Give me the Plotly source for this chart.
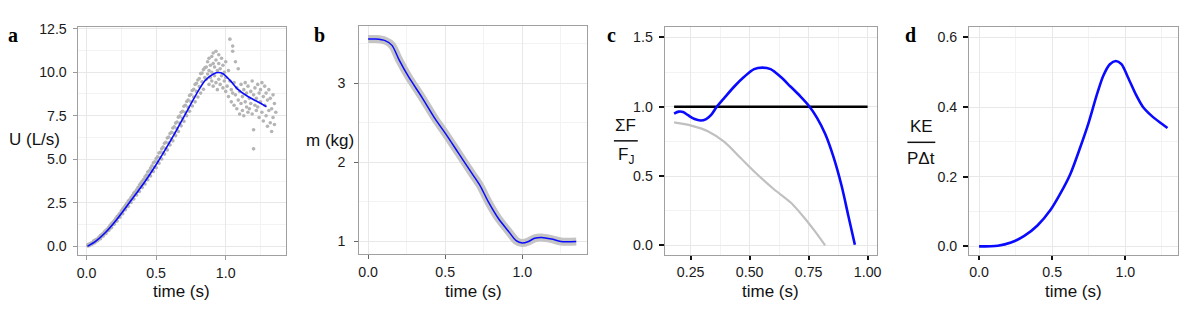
import plotly.graph_objects as go

# ---------------- Panel a data ----------------
a_curve_t = [0.007, 0.067, 0.138, 0.21, 0.281, 0.352, 0.424, 0.495, 0.567, 0.638, 0.71, 0.781,
             0.852, 0.912, 0.948, 0.983, 1.031, 1.09, 1.162, 1.233, 1.293]
a_curve_u = [0.0, 0.3, 0.81, 1.47, 2.22, 2.98, 3.77, 4.63, 5.57, 6.55, 7.59, 8.63,
             9.53, 9.9, 9.98, 9.9, 9.53, 9.0, 8.59, 8.29, 8.02]

t_even = [0.02, 0.04, 0.06, 0.08, 0.10, 0.12, 0.14, 0.16, 0.18, 0.20, 0.22, 0.24, 0.26, 0.28,
          0.30, 0.32, 0.34, 0.36, 0.38, 0.40, 0.42, 0.44, 0.46, 0.48, 0.50, 0.52, 0.54, 0.56,
          0.58, 0.60, 0.62, 0.64, 0.66, 0.68, 0.70, 0.72, 0.74, 0.76, 0.78, 0.80, 0.82, 0.84]
trial_a_u = [0.14, 0.21, 0.35, 0.44, 0.62, 0.75, 0.93, 1.09, 1.31, 1.48, 1.72, 1.90, 2.15, 2.36,
             2.60, 2.80, 3.06, 3.25, 3.52, 3.74, 3.99, 4.27, 4.50, 4.80, 5.05, 5.36, 5.60, 5.92,
             6.22, 6.48, 6.80, 7.08, 7.42, 7.70, 8.05, 8.32, 8.66, 8.95, 9.30, 9.55, 9.92, 10.15]
trial_b_u = [0.04, 0.12, 0.21, 0.33, 0.44, 0.60, 0.74, 0.92, 1.08, 1.28, 1.46, 1.68, 1.88, 2.10,
             2.30, 2.52, 2.72, 2.95, 3.15, 3.38, 3.58, 3.83, 4.04, 4.30, 4.52, 4.78, 5.02, 5.30,
             5.54, 5.82, 6.06, 6.36, 6.60, 6.92, 7.18, 7.50, 7.76, 8.06, 8.30, 8.58, 8.80, 9.02]
t_odd = [0.01, 0.03, 0.05, 0.07, 0.09, 0.11, 0.13, 0.15, 0.17, 0.19, 0.21, 0.23, 0.25, 0.27,
         0.29, 0.31, 0.33, 0.35, 0.37, 0.39, 0.41, 0.43, 0.45, 0.47, 0.49, 0.51, 0.53, 0.55,
         0.57, 0.59, 0.61, 0.63, 0.65, 0.67, 0.69, 0.71, 0.73, 0.75, 0.77, 0.79, 0.81, 0.83, 0.85]
trial_c_u = [0.10, 0.18, 0.30, 0.39, 0.54, 0.68, 0.85, 1.00, 1.21, 1.38, 1.60, 1.80, 2.04, 2.24,
             2.48, 2.68, 2.92, 3.14, 3.38, 3.62, 3.84, 4.10, 4.34, 4.62, 4.86, 5.15, 5.40, 5.70,
             5.98, 6.28, 6.55, 6.86, 7.14, 7.48, 7.76, 8.10, 8.40, 8.72, 9.02, 9.36, 9.64, 9.95, 10.25]
trial_d_u = [0.03, 0.10, 0.20, 0.31, 0.42, 0.57, 0.71, 0.89, 1.05, 1.26, 1.44, 1.66, 1.86, 2.09,
             2.28, 2.52, 2.72, 2.97, 3.16, 3.42, 3.60, 3.88, 4.08, 4.36, 4.56, 4.86, 5.08, 5.38,
             5.62, 5.94, 6.18, 6.50, 6.76, 7.08, 7.36, 7.70, 7.98, 8.30, 8.58, 8.90, 9.18, 9.45, 9.70]
late_t = [0.86, 0.86, 0.87, 0.87, 0.88, 0.88, 0.88, 0.89, 0.89, 0.90, 0.90, 0.90, 0.91, 0.91, 0.91,
          0.92, 0.92, 0.93, 0.93, 0.93, 0.94, 0.94, 0.95, 0.95, 0.95, 0.96, 0.96, 0.97, 0.97, 0.98,
          0.98, 0.99, 0.99, 1.00, 1.00, 1.00,
          1.01, 1.02, 1.02, 1.03, 1.03, 1.04, 1.04, 1.05, 1.05, 1.05, 1.06, 1.06, 1.07, 1.07, 1.08,
          1.08, 1.09, 1.09, 1.10, 1.10, 1.11, 1.11, 1.12, 1.12, 1.13, 1.13, 1.14, 1.14, 1.15, 1.15,
          1.16, 1.16, 1.17, 1.17, 1.18, 1.18, 1.19, 1.19, 1.20, 1.20, 1.20, 1.21, 1.21, 1.22, 1.22,
          1.23, 1.23, 1.24, 1.24, 1.25, 1.25, 1.26, 1.26, 1.27, 1.27, 1.28, 1.28, 1.29, 1.29, 1.30,
          1.30, 1.31, 1.31, 1.32, 1.32, 1.33, 1.33, 1.34, 1.34, 1.35, 1.35, 1.36]
late_u = [9.6, 10.3, 9.9, 10.6, 9.3, 10.1, 10.8, 9.7, 10.4, 9.5, 10.0, 10.9, 9.2, 10.5, 11.1,
          9.8, 10.3, 9.4, 10.7, 11.2, 9.0, 10.1, 9.6, 10.5, 11.0, 9.3, 10.2, 9.8, 10.8, 9.1,
          10.4, 9.5, 10.0, 8.9, 9.7, 10.6,
          9.2, 8.6, 10.1, 9.5, 11.9, 8.3, 9.0, 11.5, 8.8, 11.2, 9.4, 8.1, 8.7, 10.6, 7.9,
          9.1, 8.4, 10.2, 7.6, 8.9, 8.2, 9.3, 7.8, 8.6, 9.0, 7.5, 8.3, 9.4, 8.0, 8.8,
          7.7, 9.2, 8.5, 7.9, 8.9, 8.2, 9.5, 7.6, 8.7, 6.7, 5.6, 8.1, 9.1, 7.8, 8.5,
          9.3, 8.0, 7.4, 8.8, 9.0, 8.3, 7.7, 9.4, 8.6, 7.2, 8.1, 9.2, 7.5, 8.8, 6.9,
          8.4, 7.8, 9.0, 7.1, 8.5, 6.6, 7.9, 8.7, 7.4, 8.2, 7.0, 7.7]

# ---------------- Panel b data ----------------
b_t = [0.0, 0.05, 0.11, 0.155, 0.2, 0.26, 0.35, 0.435, 0.5, 0.585, 0.67, 0.725, 0.78, 0.845,
       0.91, 0.96, 1.0, 1.04, 1.08, 1.125, 1.19, 1.25, 1.35]
b_m = [3.56, 3.56, 3.54, 3.48, 3.30, 3.09, 2.82, 2.55, 2.37, 2.12, 1.87, 1.71, 1.50, 1.29,
       1.13, 1.01, 0.98, 1.00, 1.04, 1.05, 1.03, 1.00, 1.00]

# ---------------- Panel c data ----------------
c_blue_t = [0.18, 0.2, 0.218, 0.239, 0.267, 0.292, 0.316, 0.337, 0.358, 0.393, 0.435, 0.477,
            0.519, 0.554, 0.589, 0.631, 0.673, 0.715, 0.75, 0.785, 0.82, 0.855, 0.89, 0.918, 0.946]
c_blue_v = [0.951, 0.965, 0.962, 0.939, 0.911, 0.901, 0.911, 0.941, 0.993, 1.064, 1.146, 1.216,
            1.271, 1.282, 1.271, 1.216, 1.146, 1.075, 1.009, 0.922, 0.805, 0.64, 0.428, 0.216, 0.005]
c_gray_t = [0.18, 0.253, 0.323, 0.393, 0.463, 0.533, 0.603, 0.673, 0.729, 0.778, 0.82]
c_gray_v = [0.887, 0.864, 0.824, 0.746, 0.628, 0.511, 0.405, 0.311, 0.205, 0.099, 0.0]
c_ref_t = [0.18, 1.0]
c_ref_v = [1.0, 1.0]

# ---------------- Panel d data ----------------
d_t = [0.0, 0.128, 0.218, 0.309, 0.399, 0.489, 0.556, 0.624, 0.691, 0.748, 0.804, 0.849, 0.894,
       0.935, 0.973, 1.018, 1.074, 1.119, 1.176, 1.232, 1.288]
d_v = [0.0, 0.002, 0.011, 0.030, 0.060, 0.105, 0.152, 0.208, 0.284, 0.354, 0.434, 0.49, 0.523,
       0.532, 0.523, 0.485, 0.434, 0.401, 0.376, 0.357, 0.34]

W, H = 1196, 311
BLUE = "#0a0aff"
GRAY_PT = "#b4b4b4"
FONT = "Liberation Sans, Arial, sans-serif"


def px(x):
    return x / W


def py(y):
    return 1 - y / H


fig = go.Figure()

sc = dict(mode="markers", marker=dict(color=GRAY_PT, size=3.6), xaxis="x", yaxis="y",
          showlegend=False, hoverinfo="skip")
fig.add_trace(go.Scatter(x=t_even, y=trial_a_u, **sc))
fig.add_trace(go.Scatter(x=t_even, y=trial_b_u, **sc))
fig.add_trace(go.Scatter(x=t_odd, y=trial_c_u, **sc))
fig.add_trace(go.Scatter(x=t_odd, y=trial_d_u, **sc))
fig.add_trace(go.Scatter(x=late_t, y=late_u, **sc))
fig.add_trace(go.Scatter(x=a_curve_t, y=a_curve_u, mode="lines",
                         line=dict(color=BLUE, width=1.6, shape="spline", smoothing=0.8),
                         xaxis="x", yaxis="y", showlegend=False))

fig.add_trace(go.Scatter(x=b_t, y=b_m, mode="lines", line=dict(color="#c4c4c4", width=8, shape="spline", smoothing=0.8),
                         xaxis="x2", yaxis="y2", showlegend=False))
fig.add_trace(go.Scatter(x=b_t, y=b_m, mode="lines", line=dict(color=BLUE, width=1.5, shape="spline", smoothing=0.8),
                         xaxis="x2", yaxis="y2", showlegend=False))

fig.add_trace(go.Scatter(x=c_ref_t, y=c_ref_v, mode="lines", line=dict(color="black", width=2.5),
                         xaxis="x3", yaxis="y3", showlegend=False))
fig.add_trace(go.Scatter(x=c_gray_t, y=c_gray_v, mode="lines",
                         line=dict(color="#c0c0c0", width=2.2, shape="spline", smoothing=0.8),
                         xaxis="x3", yaxis="y3", showlegend=False))
fig.add_trace(go.Scatter(x=c_blue_t, y=c_blue_v, mode="lines",
                         line=dict(color=BLUE, width=2.6, shape="spline", smoothing=0.8),
                         xaxis="x3", yaxis="y3", showlegend=False))

fig.add_trace(go.Scatter(x=d_t, y=d_v, mode="lines", line=dict(color=BLUE, width=2.6, shape="spline", smoothing=0.8),
                         xaxis="x4", yaxis="y4", showlegend=False))


def axis(domain, rng, dtick, fmt, tickcolor, tickwidth, ticklen, anchor, minor_dtick, standoff):
    return dict(domain=domain, range=rng, dtick=dtick, tick0=0, tickformat=fmt, anchor=anchor,
                showline=True, mirror=True, linecolor="#a0a0a0", linewidth=1,
                showgrid=True, gridcolor="#e8e8e8", gridwidth=1, zeroline=False,
                ticks="outside", ticklen=ticklen, tickcolor=tickcolor, tickwidth=tickwidth,
                ticklabelstandoff=standoff,
                tickfont=dict(family=FONT, size=14.2, color="#1a1a1a"),
                minor=dict(dtick=minor_dtick, tick0=0, showgrid=True, gridcolor="#f3f3f3", gridwidth=1, ticks=""),
                fixedrange=True)


fig.update_layout(
    width=W, height=H, margin=dict(l=0, r=0, t=0, b=0),
    paper_bgcolor="white", plot_bgcolor="white", showlegend=False,
    xaxis=axis([px(77), px(286)], [-0.064, 1.43], 0.5, ".1f", "#999", 1, 4, "y", 0.25, 1),
    yaxis=axis([py(254), py(21)], [-0.5, 12.62], 2.5, ".1f", "#999", 1, 4, "x", 1.25, 3),
    xaxis2=axis([px(360), px(589)], [-0.058, 1.42], 0.5, ".1f", "#666", 1, 4, "y2", 0.25, 1),
    yaxis2=axis([py(253), py(20)], [0.84, 3.73], 1, "d", "#666", 1, 4, "x2", 0.5, 6),
    xaxis3=axis([px(667), px(880)], [0.14, 1.038], 0.25, ".2f", "#111", 2, 4, "y3", 0.125, 0),
    yaxis3=axis([py(254), py(21)], [-0.07, 1.578], 0.5, ".1f", "#111", 2, 5, "x3", 0.25, 3),
    xaxis4=axis([px(973), px(1183)], [-0.068, 1.36], 0.5, ".1f", "#111", 2, 4, "y4", 0.25, 0),
    yaxis4=axis([py(254), py(21)], [-0.025, 0.631], 0.2, ".1f", "#111", 2, 5, "x4", 0.1, 3),
)

ann = []
lab = dict(family="Liberation Serif, DejaVu Serif, serif", size=20, color="black")
for text, x, y in [("<b>a</b>", 12, 30), ("<b>b</b>", 320, 30), ("<b>c</b>", 614, 30), ("<b>d</b>", 914, 30)]:
    ann.append(dict(text=text, x=px(x), y=py(y), xref="paper", yref="paper", showarrow=False,
                    xanchor="center", yanchor="middle", font=lab))
tf = dict(family=FONT, size=17, color="#111")
for text, x, y in [("U (L/s)", 34, 136), ("m (kg)", 331, 137),
                   ("ΣF", 628, 122), ("F<sub>J</sub>", 628, 153),
                   ("KE", 925, 123), ("PΔt", 925, 155),
                   ("time (s)", 181.5, 291), ("time (s)", 474.5, 291),
                   ("time (s)", 773.5, 291), ("time (s)", 1078, 291)]:
    ann.append(dict(text=text, x=px(x), y=py(y), xref="paper", yref="paper", showarrow=False,
                    xanchor="center", yanchor="middle", font=tf))
fig.update_layout(annotations=ann)

fig.add_shape(type="line", xref="paper", yref="paper", x0=px(616), x1=px(640), y0=py(137.5), y1=py(137.5),
              line=dict(color="#111", width=1.5))
fig.add_shape(type="line", xref="paper", yref="paper", x0=px(911), x1=px(939), y0=py(139), y1=py(139),
              line=dict(color="#111", width=1.5))

fig.write_html("out.html", config={"displayModeBar": False},
               post_script="document.body.style.margin='0';document.body.style.overflow='hidden';")
